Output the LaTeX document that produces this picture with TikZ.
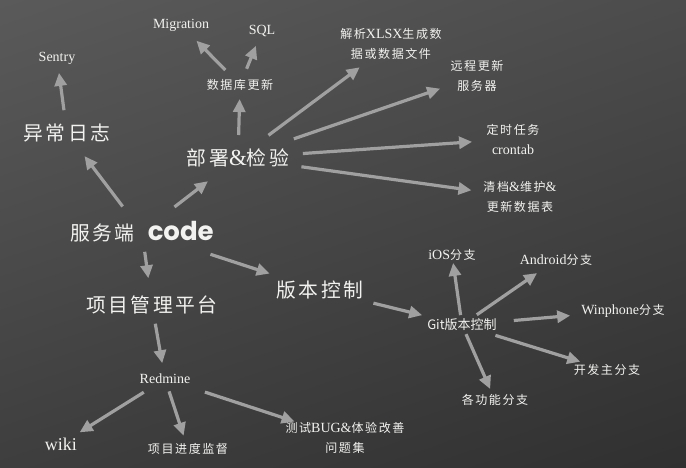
\documentclass[tikz,border=0pt]{standalone}
\usepackage{fontspec}
\setmainfont{Liberation Serif}
\newfontfamily\cjkfont[LetterSpace=13,Scale=0.86]{Noto Sans CJK SC}
\newfontfamily\gitfont{Noto Sans CJK SC}
\newfontfamily\codefont{Poppins}
\usetikzlibrary{arrows.meta,shadings}
\definecolor{bgUL}{HTML}{5A5A5A}
\definecolor{bgUR}{HTML}{4C4C4C}
\definecolor{bgLL}{HTML}{3E3E3E}
\definecolor{bgLR}{HTML}{303030}
\definecolor{txt}{HTML}{F2F2F0}
\definecolor{arrc}{HTML}{A0A0A0}
\newcommand\zh[1]{{\cjkfont #1}}
\tikzset{
  lbl/.style={text=txt, inner sep=3pt, align=center, font=\fontsize{14}{20}\selectfont},
  big/.style={lbl, font=\fontsize{23}{26}\selectfont},
  arr/.style 2 args={draw=arrc, line width=3.2pt, -{Triangle[length=13pt,width=12pt]}, shorten <=#1pt, shorten >=#2pt}
}
\begin{document}
\begin{tikzpicture}[x=1pt,y=-1pt]
\shade[upper left=bgUL, upper right=bgUR, lower left=bgLL, lower right=bgLR] (0,0) rectangle (686,468);
\useasboundingbox (0,0) rectangle (686,468);

% nodes
\node[big] (srv) at (142,232) {\zh{服务端}\hspace{13pt}{\codefont\bfseries\fontsize{26}{28}\selectfont code}};
\node[big] (log) at (67,133) {\zh{异常日志}};
\node[lbl] (sentry) at (57,58) {Sentry};
\node[big] (dep) at (238,158) {\zh{部署}\&\zh{检验}};
\node[lbl] (db) at (240,85) {\zh{数据库更新}};
\node[lbl] (mig) at (181,25) {Migration};
\node[lbl] (sql) at (262,31) {SQL};
\node[lbl] (xlsx) at (391,44) {\zh{解析}XLSX\zh{生成数}\\\zh{据或数据文件}};
\node[lbl] (remote) at (477,76) {\zh{远程更新}\\\zh{服务器}};
\node[lbl] (cron) at (513,139) {\zh{定时任务}\\crontab};
\node[lbl] (clean) at (520,197) {\zh{清档}\&\zh{维护}\&\\\zh{更新数据表}};
\node[big] (pm) at (152,305) {\zh{项目管理平台}};
\node[lbl] (red) at (165,379) {Redmine};
\node[lbl, font=\fontsize{18}{20}\selectfont] (wiki) at (61,444) {wiki};
\node[lbl] (prog) at (188,449) {\zh{项目进度监督}};
\node[lbl] (bug) at (345,438) {\zh{测试}BUG\&\zh{体验改善}\\\zh{问题集}};
\node[big] (vc) at (320,290) {\zh{版本控制}};
\node[lbl, font=\gitfont\fontsize{13}{15}\selectfont] (git) at (462,325) {Git版本控制};
\node[lbl] (ios) at (452,255) {iOS\zh{分支}};
\node[lbl] (and) at (556,260) {Android\zh{分支}};
\node[lbl] (win) at (623,311) {Winphone\zh{分支}};
\node[lbl] (main) at (607,370) {\zh{开发主分支}};
\node[lbl] (feat) at (495,400) {\zh{各功能分支}};

% connectors
\draw[arr={23}{15}] (log.center) -- (sentry.center);
\draw[arr={32}{29}] (srv.center) -- (log.center);
\draw[arr={41}{38}] (srv.center) -- (dep.center);
\draw[arr={23}{14}] (dep.center) -- (db.center);
\draw[arr={21}{22}] (db.center) -- (mig.center);
\draw[arr={17.5}{16}] (db.center) -- (sql.center);
\draw[arr={38}{39}] (dep.center) -- (xlsx.center);
\draw[arr={59}{39}] (dep.center) -- (remote.center);
\draw[arr={65}{41}] (dep.center) -- (cron.center);
\draw[arr={64}{49}] (dep.center) -- (clean.center);
\draw[arr={20}{27}] (srv.center) -- (pm.center);
\draw[arr={72}{53}] (srv.center) -- (vc.center);
\draw[arr={19}{16}] (pm.center) -- (red.center);
\draw[arr={25}{22}] (red.center) -- (wiki.center);
\draw[arr={13}{14}] (red.center) -- (prog.center);
\draw[arr={42}{53}] (red.center) -- (bug.center);
\draw[arr={55}{41}] (vc.center) -- (git.center);
\draw[arr={10}{8}] (git.center) -- (ios.center);
\draw[arr={18}{23}] (git.center) -- (and.center);
\draw[arr={52}{53}] (git.center) -- (win.center);
\draw[arr={35}{28}] (git.center) -- (main.center);
\draw[arr={10}{12}] (git.center) -- (feat.center);
\end{tikzpicture}
\end{document}
